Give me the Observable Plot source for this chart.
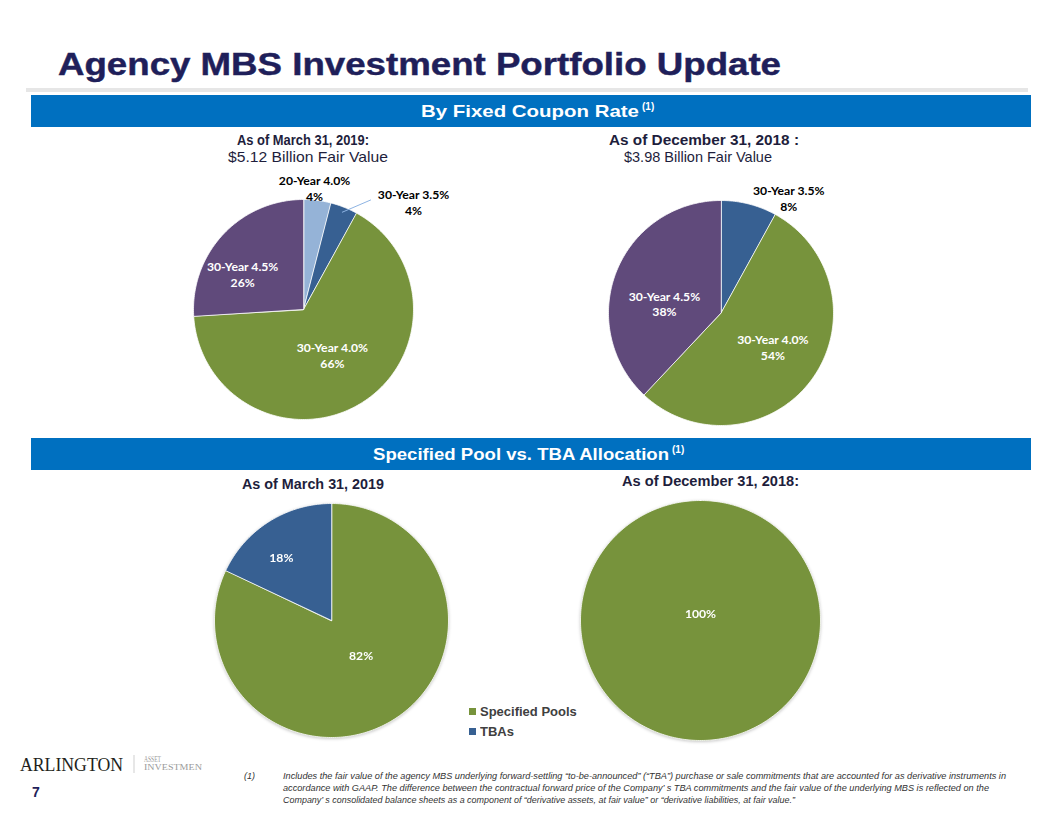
<!DOCTYPE html>
<html>
<head>
<meta charset="utf-8">
<script src="https://cdn.jsdelivr.net/npm/d3@7"></script>
<script src="https://cdn.jsdelivr.net/npm/@observablehq/plot@0.6"></script>
<style>
  html, body { margin: 0; padding: 0; background: #fff; }
  #slide { position: relative; width: 1056px; height: 816px; overflow: hidden; background: #fff; }
  .abs { position: absolute; }
  .lg-swatch { height: 20px !important; margin: 0 !important; padding: 0 !important; }
  .lg-swatch svg { margin-right: 4px !important; }
  .shadow { filter: drop-shadow(0px 1px 1.5px rgba(0,0,0,0.22)); }
</style>
</head>
<body>
<div id="slide"></div>
<script>
// ---------------- DATA ----------------
const couponCategories2019 = ["20-Year 4.0%", "30-Year 3.5%", "30-Year 4.0%", "30-Year 4.5%"];
const couponValues2019 = [4, 4, 66, 26];
const couponCategories2018 = ["30-Year 3.5%", "30-Year 4.0%", "30-Year 4.5%"];
const couponValues2018 = [8, 54, 38];
const poolCategories = ["Specified Pools", "TBAs"];
const poolValues2019 = [82, 18];
const poolValues2018 = [100, 0];

const fairValue2019 = "$5.12 Billion Fair Value";
const fairValue2018 = "$3.98 Billion Fair Value";

// ---------------- STYLE ----------------
const colorDomain = ["20-Year 4.0%", "30-Year 3.5%", "30-Year 4.0%", "30-Year 4.5%", "Specified Pools", "TBAs"];
const colorRange  = ["#95b3d7", "#376092", "#77933c", "#604a7b", "#77933c", "#376092"];
const navy = "#1f1f5a";

// ---------------- LAYOUT ----------------
const slide = document.getElementById("slide");
const S = "http://www.w3.org/2000/svg";

const overlay = `
<svg xmlns="${S}" width="1056" height="816" style="position:absolute;left:0;top:0">
  <defs><clipPath id="logoClip"><rect x="140" y="745" width="62" height="40"/></clipPath></defs>
  <text x="58" y="75" font-family="Liberation Sans, Arial, sans-serif" font-weight="bold" font-size="31" fill="${navy}" stroke="${navy}" stroke-width="0.45" textLength="723" lengthAdjust="spacingAndGlyphs">Agency MBS Investment Portfolio Update</text>
  <rect x="26" y="88" width="1002" height="4" fill="#e6e6e6"/>
  <rect x="31" y="95" width="1000" height="32" fill="#0070c0"/>
  <text x="421" y="117" font-family="Liberation Sans, Arial, sans-serif" font-weight="bold" font-size="17" fill="#fff" textLength="218" lengthAdjust="spacingAndGlyphs">By Fixed Coupon Rate</text>
  <text x="642" y="110" font-family="Liberation Sans, Arial, sans-serif" font-weight="bold" font-size="10" fill="#fff">(1)</text>
  <rect x="31" y="438" width="1000" height="32" fill="#0070c0"/>
  <text x="373" y="460" font-family="Liberation Sans, Arial, sans-serif" font-weight="bold" font-size="17" fill="#fff" textLength="296" lengthAdjust="spacingAndGlyphs">Specified Pool vs. TBA Allocation</text>
  <text x="672" y="453" font-family="Liberation Sans, Arial, sans-serif" font-weight="bold" font-size="10" fill="#fff">(1)</text>

  <text x="237" y="145" font-family="Liberation Sans, Arial, sans-serif" font-weight="bold" font-size="14" fill="#1e1e3c" textLength="132" lengthAdjust="spacingAndGlyphs">As of March 31, 2019:</text>
  <text x="228" y="162" font-family="Liberation Sans, Arial, sans-serif" font-size="14.5" fill="#1e1e3c" textLength="160" lengthAdjust="spacingAndGlyphs">${fairValue2019}</text>
  <text x="609" y="145" font-family="Liberation Sans, Arial, sans-serif" font-weight="bold" font-size="14" fill="#1e1e3c" textLength="190" lengthAdjust="spacingAndGlyphs">As of December 31, 2018 :</text>
  <text x="624" y="162" font-family="Liberation Sans, Arial, sans-serif" font-size="14.5" fill="#1e1e3c" textLength="148" lengthAdjust="spacingAndGlyphs">${fairValue2018}</text>
  <text x="242" y="489" font-family="Liberation Sans, Arial, sans-serif" font-weight="bold" font-size="14" fill="#1e1e3c" textLength="142" lengthAdjust="spacingAndGlyphs">As of March 31, 2019</text>
  <text x="622" y="486" font-family="Liberation Sans, Arial, sans-serif" font-weight="bold" font-size="14" fill="#1e1e3c" textLength="177" lengthAdjust="spacingAndGlyphs">As of December 31, 2018:</text>

  <text x="20" y="771" font-family="Liberation Serif, Times New Roman, serif" font-size="18" fill="#231f20" textLength="103" lengthAdjust="spacingAndGlyphs">ARLINGTON</text>
  <line x1="134" y1="755" x2="134" y2="773" stroke="#cfcfcf" stroke-width="1"/>
  <g clip-path="url(#logoClip)" font-family="Liberation Serif, Times New Roman, serif" font-size="9" fill="#9a9a9a">
    <text x="144" y="762" textLength="17" lengthAdjust="spacingAndGlyphs">ASSET</text>
    <text x="144" y="770" textLength="64" lengthAdjust="spacingAndGlyphs">INVESTMENT</text>
  </g>
  <text x="32" y="797" font-family="Liberation Sans, Arial, sans-serif" font-weight="bold" font-size="14" fill="${navy}">7</text>

  <g font-family="Liberation Sans, Arial, sans-serif" font-style="italic" font-size="9" fill="#333">
    <text x="244" y="779">(1)</text>
    <text x="283" y="779" textLength="723" lengthAdjust="spacingAndGlyphs">Includes the fair value of the agency MBS underlying forward-settling “to-be-announced” (“TBA”)  purchase or sale commitments  that are accounted for as derivative instruments  in</text>
    <text x="283" y="791" textLength="706" lengthAdjust="spacingAndGlyphs">accordance with GAAP.  The difference between the contractual forward price of the Company’ s TBA commitments  and the fair value of the underlying MBS is reflected on the</text>
    <text x="283" y="803" textLength="512" lengthAdjust="spacingAndGlyphs">Company’ s consolidated balance sheets as a component of “derivative assets, at fair value” or “derivative liabilities, at fair value.”</text>
  </g>
</svg>`;
slide.insertAdjacentHTML("beforeend", overlay);

// Pie geometry built from the data via d3.pie (clockwise from 12 o'clock)
function pieShapes(categories, values) {
  const arcs = d3.pie().sort(null).value(d => d)(values);
  const pts = [];
  arcs.forEach((a, i) => {
    const span = a.endAngle - a.startAngle;
    if (span <= 0) return;
    const full = span >= 2 * Math.PI - 1e-9;
    const n = Math.max(2, Math.ceil(span / (Math.PI / 180)));
    if (!full) pts.push({category: categories[i], x: 0, y: 0});
    for (let k = 0; k <= n; k++) {
      const t = a.startAngle + span * k / n;
      pts.push({category: categories[i], x: Math.sin(t), y: Math.cos(t)});
    }
  });
  return {arcs, pts};
}

function polar(r, angle) { return {x: r * Math.sin(angle), y: r * Math.cos(angle)}; }

// label placement (radius fraction, angular shift in degrees, inside = white text)
function drawPie({categories, values, cx, cy, R, labelFor, place, leader, shadow}) {
  const P = 70;
  const {arcs, pts} = pieShapes(categories, values);
  const labels = [];
  arcs.forEach((a, i) => {
    if (values[i] <= 0) return;
    const lp = place[i];
    const mid = (a.startAngle + a.endAngle) / 2 + lp.shift * Math.PI / 180;
    labels.push({...polar(lp.r, mid), text: labelFor(categories[i], values[i]), inside: lp.inside});
  });
  const links = [];
  if (leader) {
    const a = arcs[leader.index];
    const mid = (a.startAngle + a.endAngle) / 2;
    const p0 = polar(leader.r0, mid), p1 = polar(leader.r1, mid + leader.shift1 * Math.PI / 180);
    links.push({x1: p0.x, y1: p0.y, x2: p1.x, y2: p1.y});
  }
  const textOpts = {x: "x", y: "y", text: "text", fontFamily: "Lato, 'Open Sans', sans-serif", fontWeight: "bold", fontSize: 12.2, lineHeight: 1.3};
  const chart = Plot.plot({
    width: 2 * (R + P), height: 2 * (R + P),
    marginTop: P, marginBottom: P, marginLeft: P, marginRight: P,
    x: {domain: [-1, 1], axis: null},
    y: {domain: [-1, 1], axis: null},
    color: {domain: colorDomain, range: colorRange},
    style: {background: "none", overflow: "visible"},
    marks: [
      Plot.line(pts, {x: "x", y: "y", z: "category", fill: "category", stroke: "#ffffff", strokeWidth: 0.8, curve: "linear-closed"}),
      Plot.link(links, {x1: "x1", y1: "y1", x2: "x2", y2: "y2", stroke: "#8eb4e3", strokeWidth: 1}),
      Plot.text(labels.filter(d => d.inside), {...textOpts, fill: "#ffffff"}),
      Plot.text(labels.filter(d => !d.inside), {...textOpts, fill: "#000000"})
    ]
  });
  chart.classList.add("abs");
  if (shadow) chart.classList.add("shadow");
  chart.style.left = (cx - R - P) + "px";
  chart.style.top = (cy - R - P) + "px";
  slide.appendChild(chart);
}

const couponLabel = (c, v) => `${c}\n${v}%`;
const poolLabel = (c, v) => `${v}%`;

drawPie({
  categories: couponCategories2019, values: couponValues2019, cx: 303, cy: 309, R: 110,
  labelFor: couponLabel,
  place: [{r: 1.11, shift: -2, inside: false}, {r: 1.40, shift: 24, inside: false}, {r: 0.49, shift: 0, inside: true}, {r: 0.64, shift: -13, inside: true}],
  leader: {index: 1, r0: 0.95, r1: 1.17, shift1: 10}
});
drawPie({
  categories: couponCategories2018, values: couponValues2018, cx: 720.5, cy: 312.5, R: 112.5,
  labelFor: couponLabel,
  place: [{r: 1.19, shift: 16, inside: false}, {r: 0.55, shift: -3, inside: true}, {r: 0.51, shift: -12, inside: true}]
});
drawPie({
  categories: poolCategories, values: poolValues2019, cx: 330.5, cy: 620, R: 117,
  labelFor: poolLabel, shadow: true,
  place: [{r: 0.39, shift: -8, inside: true}, {r: 0.69, shift: -6, inside: true}]
});
drawPie({
  categories: poolCategories, values: poolValues2018, cx: 700, cy: 620, R: 120,
  labelFor: poolLabel, shadow: true,
  place: [{r: 0.06, shift: 180, inside: true}, {r: 0.5, shift: 0, inside: true}]
});

// Legend
const legend = Plot.legend({
  color: {domain: poolCategories, range: [colorRange[4], colorRange[5]]},
  legend: "swatches", columns: 1, swatchSize: 7, className: "lg",
  style: {fontFamily: "Liberation Sans, Arial, sans-serif", fontWeight: "bold", fontSize: "13px", color: "#404040", background: "none"}
});
legend.classList.add("abs");
legend.style.left = "469px";
legend.style.top = "701px";
legend.style.width = "140px";
slide.appendChild(legend);
</script>
</body>
</html>
